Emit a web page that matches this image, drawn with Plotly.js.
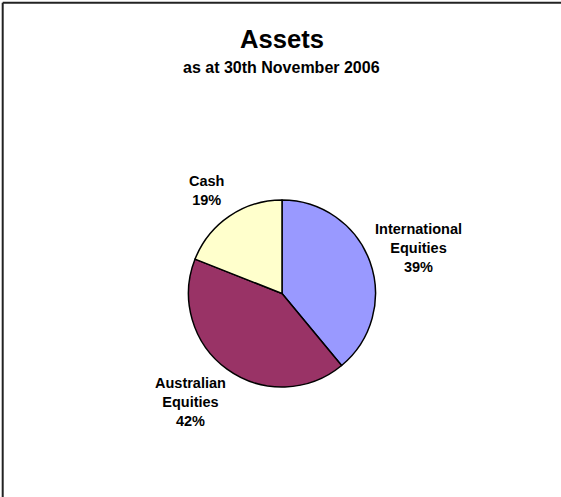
<!DOCTYPE html>
<html>
<head>
<meta charset="utf-8">
<script src="https://cdn.plot.ly/plotly-3.0.1.min.js"></script>
<style>
  html, body { margin: 0; padding: 0; background: #fff; overflow: hidden; }
  #chart { width: 561px; height: 497px; }
</style>
</head>
<body>
<div id="chart"></div>
<script>
// Data
const categories = ["International Equities", "Australian Equities", "Cash"];
const labelLines = [["International", "Equities"], ["Australian", "Equities"], ["Cash"]];
const values = [39, 42, 19];
const colors = ["#9999FF", "#993366", "#FFFFCC"];
const titleText = "Assets";
const subtitleText = "as at 30th November 2006";

const W = 561, H = 497;
const FONT = "Liberation Sans, Arial, Helvetica, sans-serif";
const LABEL_SIZE = 14.5;
const LINE_H = 19;

const cx = 282, cy = 293.5, r = 93.5;

const trace = {
  type: "pie",
  labels: categories,
  values: values,
  sort: false,
  direction: "clockwise",
  rotation: 0,
  marker: { colors: colors, line: { color: "#000000", width: 1.5 } },
  textinfo: "none",
  hoverinfo: "label+percent",
  domain: {
    x: [(cx - r) / W, (cx + r) / W],
    y: [(H - cy - r) / H, (H - cy + r) / H]
  },
  showlegend: false
};

// Data labels placed outside each slice, along the slice's mid angle
const ctx = document.createElement("canvas").getContext("2d");
ctx.font = "bold " + LABEL_SIZE + "px " + FONT;
const total = values.reduce((a, b) => a + b, 0);
let cum = 0;
const LABEL_R = r + 16.5;
const KX = 0.77;
const labelAnns = values.map((v, i) => {
  const mid = (cum + v / 2) / total;
  cum += v;
  const th = 2 * Math.PI * mid;
  const ux = Math.sin(th), uy = -Math.cos(th);
  const pct = Math.round(100 * v / total) + "%";
  const lines = labelLines[i].concat([pct]);
  const w = Math.max(...lines.map(s => ctx.measureText(s).width));
  const h = (lines.length - 1) * LINE_H + LABEL_SIZE * 0.72;
  const px = cx + ux * LABEL_R + Math.sign(ux) * KX * w / 2;
  const py = cy + uy * LABEL_R + uy * h / 2;
  return {
    text: lines.join("<br>"),
    xref: "paper", yref: "paper",
    x: px / W, y: 1 - py / H,
    xanchor: "center", yanchor: "middle",
    showarrow: false, align: "center",
    font: { family: FONT, size: LABEL_SIZE, color: "#000000", weight: "bold" }
  };
});

const layout = {
  width: W,
  height: H,
  margin: { l: 0, r: 0, t: 0, b: 0 },
  paper_bgcolor: "#ffffff",
  plot_bgcolor: "#ffffff",
  showlegend: false,
  font: { family: FONT, color: "#000000" },
  title: {
    text: titleText,
    font: { family: FONT, size: 25.6, color: "#000000", weight: "bold" },
    x: 282 / W,
    xanchor: "center",
    xref: "container",
    yref: "container",
    y: 1 - 39 / H,
    yanchor: "middle"
  },
  annotations: [{
    text: subtitleText,
    xref: "paper", yref: "paper",
    x: 281 / W, y: 1 - 67.7 / H,
    xanchor: "center", yanchor: "middle",
    showarrow: false,
    font: { family: FONT, size: 16, color: "#000000", weight: "bold" }
  }].concat(labelAnns),
  shapes: [
    { type: "line", xref: "paper", yref: "paper",
      x0: 2.7 / W, x1: 1, y0: 1 - 2.7 / H, y1: 1 - 2.7 / H,
      line: { color: "#222222", width: 2 } },
    { type: "line", xref: "paper", yref: "paper",
      x0: 2.7 / W, x1: 2.7 / W, y0: 0, y1: 1 - 2.7 / H,
      line: { color: "#222222", width: 2 } }
  ]
};

Plotly.newPlot("chart", [trace], layout, { displayModeBar: false, staticPlot: true });
</script>
</body>
</html>
